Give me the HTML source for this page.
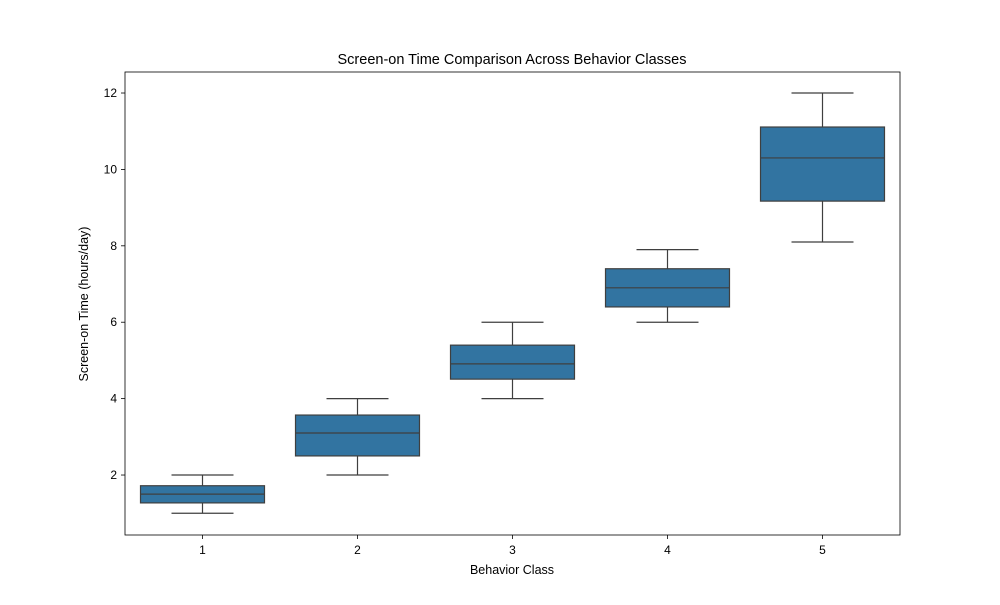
<!DOCTYPE html>
<html><head><meta charset="utf-8"><style>
body{margin:0;background:#fff;}
svg text{font-family:"Liberation Sans","DejaVu Sans",sans-serif;fill:#000;}
</style></head><body>
<svg width="1000" height="600" viewBox="0 0 1000 600">
<rect width="1000" height="600" fill="#fff"/>
<g id="plot"></g>
<text x="512" y="64" font-size="14.5" text-anchor="middle">Screen-on Time Comparison Across Behavior Classes</text>
<text x="512" y="574" font-size="12.5" text-anchor="middle">Behavior Class</text>
<text x="88" y="304" font-size="12.5" text-anchor="middle" transform="rotate(-90 88 304)">Screen-on Time (hours/day)</text>
</svg>
<script>
const categories=['1','2','3','4','5'];
const mins=[1,2,4,6,8.1];
const q1s=[1.27,2.5,4.51,6.4,9.17];
const medians=[1.5,3.1,4.91,6.9,10.3];
const q3s=[1.72,3.57,5.4,7.4,11.11];
const maxs=[2,4,6,7.9,12];
const yTicks=[2,4,6,8,10,12];
const L=125,R=900,T=72,B=535,yMin=0.43,yMax=12.55;
const y=v=>B-(v-yMin)/(yMax-yMin)*(B-T);
const bw=(R-L)/categories.length;
const x=i=>L+bw*(i+0.5);
const g=document.getElementById('plot');
const NS='http://www.w3.org/2000/svg';
function mk(tag,attrs,parent){const e=document.createElementNS(NS,tag);for(const k in attrs)e.setAttribute(k,attrs[k]);(parent||g).appendChild(e);return e;}
categories.forEach((c,i)=>{
 const grp=mk('g',{});
 
 
 const cx=x(i),hw=bw*0.4,cw=bw*0.2;
 mk('line',{x1:cx,x2:cx,y1:y(mins[i]),y2:y(q1s[i]),stroke:'#3f3f3f','stroke-width':1.2},grp);
 mk('line',{x1:cx,x2:cx,y1:y(q3s[i]),y2:y(maxs[i]),stroke:'#3f3f3f','stroke-width':1.2},grp);
 mk('line',{x1:cx-cw,x2:cx+cw,y1:y(mins[i]),y2:y(mins[i]),stroke:'#3f3f3f','stroke-width':1.2},grp);
 mk('line',{x1:cx-cw,x2:cx+cw,y1:y(maxs[i]),y2:y(maxs[i]),stroke:'#3f3f3f','stroke-width':1.2},grp);
 mk('rect',{x:cx-hw,y:y(q3s[i]),width:2*hw,height:y(q1s[i])-y(q3s[i]),fill:'#3274a1',stroke:'#3f3f3f','stroke-width':1.2},grp);
 mk('line',{x1:cx-hw,x2:cx+hw,y1:y(medians[i]),y2:y(medians[i]),stroke:'#3f3f3f','stroke-width':1.2},grp);
 const t=mk('line',{x1:cx,x2:cx,y1:B,y2:B+4,stroke:'#000','stroke-width':0.8});
 const lbl=mk('text',{x:cx,y:B+19,'font-size':12,'text-anchor':'middle'});
 lbl.textContent=c;
 
 
});
yTicks.forEach(v=>{
 mk('line',{x1:L-4,x2:L,y1:y(v),y2:y(v),stroke:'#000','stroke-width':0.8});
 const t=mk('text',{x:L-8,y:y(v)+4,'font-size':12,'text-anchor':'end'});
 t.textContent=v;
 
 
});
const frame=mk('rect',{x:L,y:T,width:R-L,height:B-T,fill:'none',stroke:'#000','stroke-width':0.8});


</script>
</body></html>
